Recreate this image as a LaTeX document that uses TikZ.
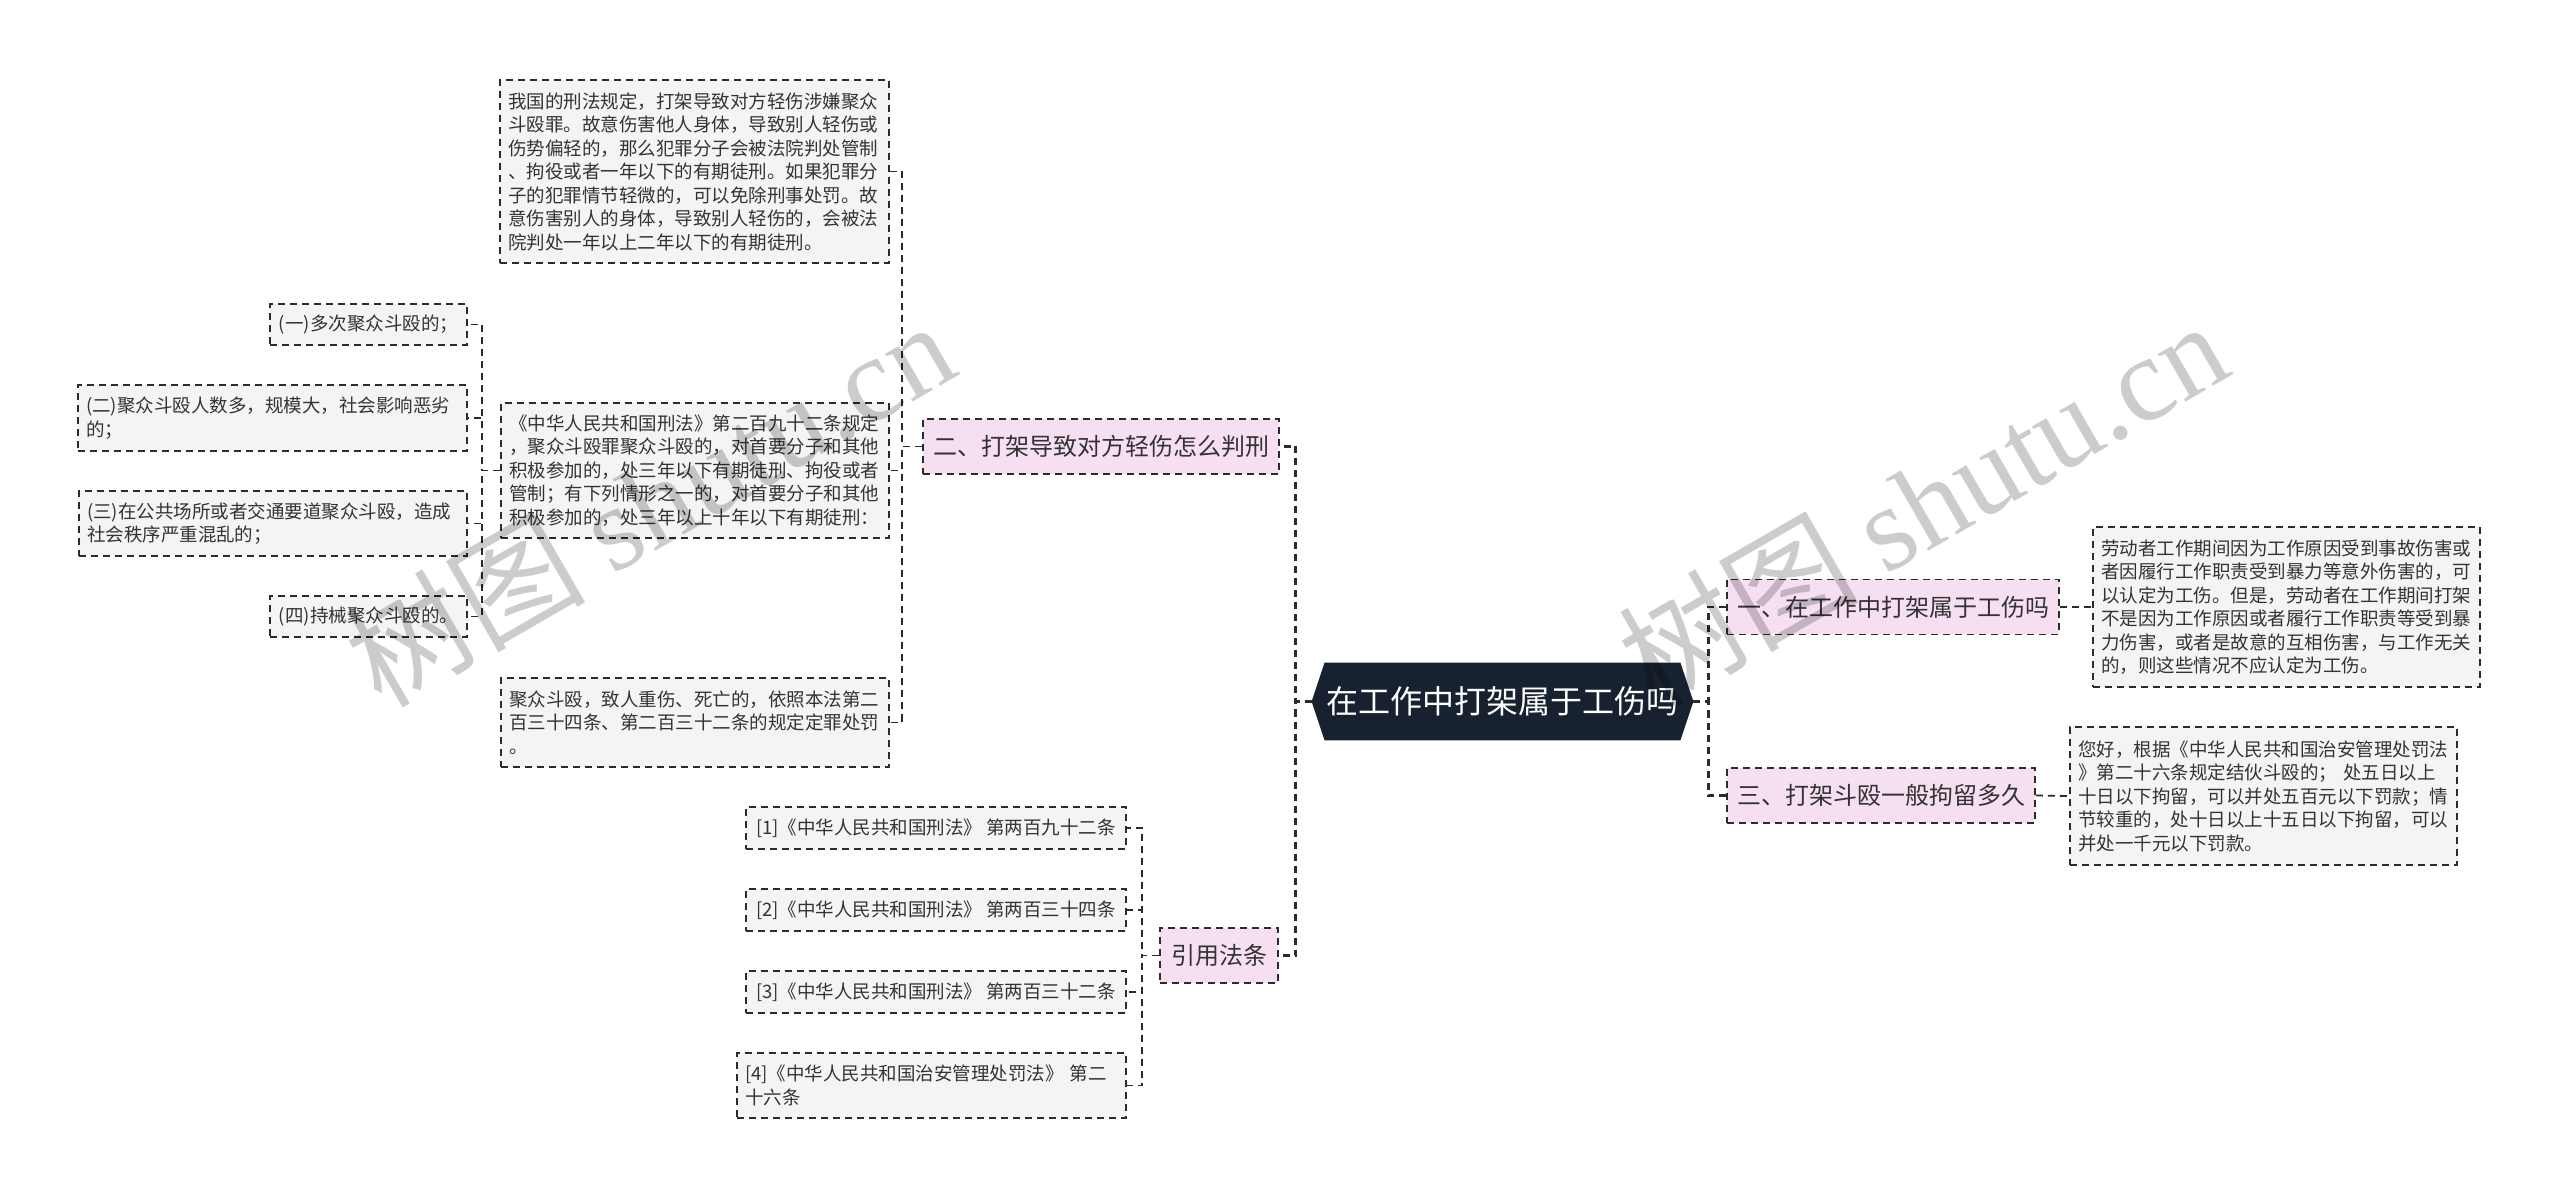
\documentclass[tikz,border=0pt]{standalone}
\usepackage{fontspec}
\setmainfont{Noto Sans CJK SC}
\newfontfamily\wmlatin{Liberation Serif}
\usetikzlibrary{calc,backgrounds}
\definecolor{ink}{HTML}{333333}
\definecolor{edge}{HTML}{2B2B2B}
\definecolor{pinkfill}{HTML}{F6DFF1}
\definecolor{leaffill}{HTML}{F4F4F4}
\definecolor{navy}{HTML}{17212F}
\begin{document}
\begin{tikzpicture}[x=0.5pt,y=-0.5pt,
  dsh/.style={dash pattern=on 3.5pt off 2.5pt},
  leaf/.style={draw=edge, dsh, line width=0.9pt, fill=leaffill, text=ink, font=\fontsize{9.25pt}{11.75pt}\selectfont, inner xsep=4pt, inner ysep=0pt},
  leafm/.style={leaf, align=left},
  branch/.style={draw=edge, dsh, line width=0.9pt, fill=pinkfill, text=ink, font=\fontsize{12pt}{14pt}\selectfont, inner sep=0pt, minimum height=27.5pt},
  conn/.style={draw=edge, dsh, line width=0.9pt},
  trunk/.style={draw=edge, dsh, line width=1.4pt},
  rootnode/.style={text=white, font=\fontsize{16pt}{19pt}\selectfont, inner sep=0pt, minimum width=190.5pt, minimum height=38.5pt},
  wm/.style={text=black, text opacity=0.2, font=\fontsize{60pt}{60pt}\selectfont, inner sep=0pt}
]
\useasboundingbox (0,0) rectangle (2560,1197);
\begin{scope}[on background layer]
  \fill[white] (0,0) rectangle (2560,1197);
\end{scope}

% root
\node[rootnode] (root) at (1502.5,701.5) {在工作中打架属于工伤吗};
\begin{scope}[on background layer]
  \fill[navy] ($(root.north west)+(13,0)$) -- ($(root.north east)+(-13,0)$) -- (root.east)
    -- ($(root.south east)+(-13,0)$) -- ($(root.south west)+(13,0)$) -- (root.west) -- cycle;
\end{scope}

% branches
\node[branch, minimum width=178pt] (b2) at (1101,446.5) {二、打架导致对方轻伤怎么判刑};
\node[branch, minimum width=59pt] (bref) at (1219,955.5) {引用法条};
\node[branch, minimum width=166pt] (b1) at (1893,607) {一、在工作中打架属于工伤吗};
\node[branch, minimum width=154pt] (b3) at (1881,795.5) {三、打架斗殴一般拘留多久};

% leaves of branch 2
\node[leafm, text width=186.5pt, minimum height=91.5pt] (lA) at (694.5,171.5) {我国的刑法规定，打架导致对方轻伤涉嫌聚众\\斗殴罪。故意伤害他人身体，导致别人轻伤或\\伤势偏轻的，那么犯罪分子会被法院判处管制\\、拘役或者一年以下的有期徒刑。如果犯罪分\\子的犯罪情节轻微的，可以免除刑事处罚。故\\意伤害别人的身体，导致别人轻伤的，会被法\\院判处一年以上二年以下的有期徒刑。};
\node[leafm, text width=186pt, minimum height=67.5pt] (lB) at (695,470.5) {《中华人民共和国刑法》第二百九十二条规定\\，聚众斗殴罪聚众斗殴的，对首要分子和其他\\积极参加的，处三年以下有期徒刑、拘役或者\\管制；有下列情形之一的，对首要分子和其他\\积极参加的，处三年以上十年以下有期徒刑：};
\node[leafm, text width=186pt, minimum height=44.5pt] (lC) at (695,722.5) {聚众斗殴，致人重伤、死亡的，依照本法第二\\百三十四条、第二百三十二条的规定定罪处罚\\。};

% leaves of lB
\node[leaf, minimum width=98.5pt, minimum height=20.5pt] (k1) at (368.5,324.5) {(一)多次聚众斗殴的；};
\node[leafm, text width=186.5pt, minimum height=33pt] (k2) at (272.5,418) {(二)聚众斗殴人数多，规模大，社会影响恶劣\\的；};
\node[leafm, text width=186pt, minimum height=32.5pt] (k3) at (273,523.5) {(三)在公共场所或者交通要道聚众斗殴，造成\\社会秩序严重混乱的；};
\node[leaf, minimum width=98.5pt, minimum height=20.5pt] (k4) at (368.5,616.5) {(四)持械聚众斗殴的。};

% references
\node[leaf, minimum width=190pt, minimum height=21pt] (r1) at (936,828) {[1]《中华人民共和国刑法》 第两百九十二条};
\node[leaf, minimum width=190pt, minimum height=21pt] (r2) at (936,910) {[2]《中华人民共和国刑法》 第两百三十四条};
\node[leaf, minimum width=190pt, minimum height=21pt] (r3) at (936,992) {[3]《中华人民共和国刑法》 第两百三十二条};
\node[leafm, text width=186.5pt, minimum height=32.5pt] (r4) at (931.5,1085.5) {[4]《中华人民共和国治安管理处罚法》 第二\\十六条};

% right leaves
\node[leafm, text width=185.5pt, minimum height=80pt] (R1) at (2286.5,607) {劳动者工作期间因为工作原因受到事故伤害或\\者因履行工作职责受到暴力等意外伤害的，可\\以认定为工伤。但是，劳动者在工作期间打架\\不是因为工作原因或者履行工作职责等受到暴\\力伤害，或者是故意的互相伤害，与工作无关\\的，则这些情况不应认定为工伤。};
\node[leafm, text width=185.5pt, minimum height=69pt] (R2) at (2263.5,796) {您好，根据《中华人民共和国治安管理处罚法\\》第二十六条规定结伙斗殴的； 处五日以上\\十日以下拘留，可以并处五百元以下罚款；情\\节较重的，处十日以上十五日以下拘留，可以\\并处一千元以下罚款。};

% trunk connectors
\draw[trunk] (root.west) -- ++(-16,0) |- (b2.east);
\draw[trunk] (root.west) -- ++(-16,0) |- (bref.east);
\draw[trunk] (root.east) -- ++(15,0) |- (b1.west);
\draw[trunk] (root.east) -- ++(15,0) |- (b3.west);

% branch 2 connectors
\draw[conn] (b2.west) -- ++(-20,0) |- (lA.east);
\draw[conn] (b2.west) -- ++(-20,0) |- (lB.east);
\draw[conn] (b2.west) -- ++(-20,0) |- (lC.east);
% lB connectors
\draw[conn] (lB.west) -- ++(-18,0) |- (k1.east);
\draw[conn] (lB.west) -- ++(-18,0) |- (k2.east);
\draw[conn] (lB.west) -- ++(-18,0) |- (k3.east);
\draw[conn] (lB.west) -- ++(-18,0) |- (k4.east);
% references connectors
\draw[conn] (bref.west) -- ++(-17,0) |- (r1.east);
\draw[conn] (bref.west) -- ++(-17,0) |- (r2.east);
\draw[conn] (bref.west) -- ++(-17,0) |- (r3.east);
\draw[conn] (bref.west) -- ++(-17,0) |- (r4.east);
% right connectors
\draw[conn] (b1.east) -- (R1.west);
\draw[conn] (b3.east) -- (R2.west);

% watermarks
\node[wm, rotate=30] (wm1) at (649,502) {树图 {\wmlatin shutu.cn}};
\node[wm, rotate=30] (wm2) at (1922,502) {树图 {\wmlatin shutu.cn}};
\end{tikzpicture}
\end{document}
